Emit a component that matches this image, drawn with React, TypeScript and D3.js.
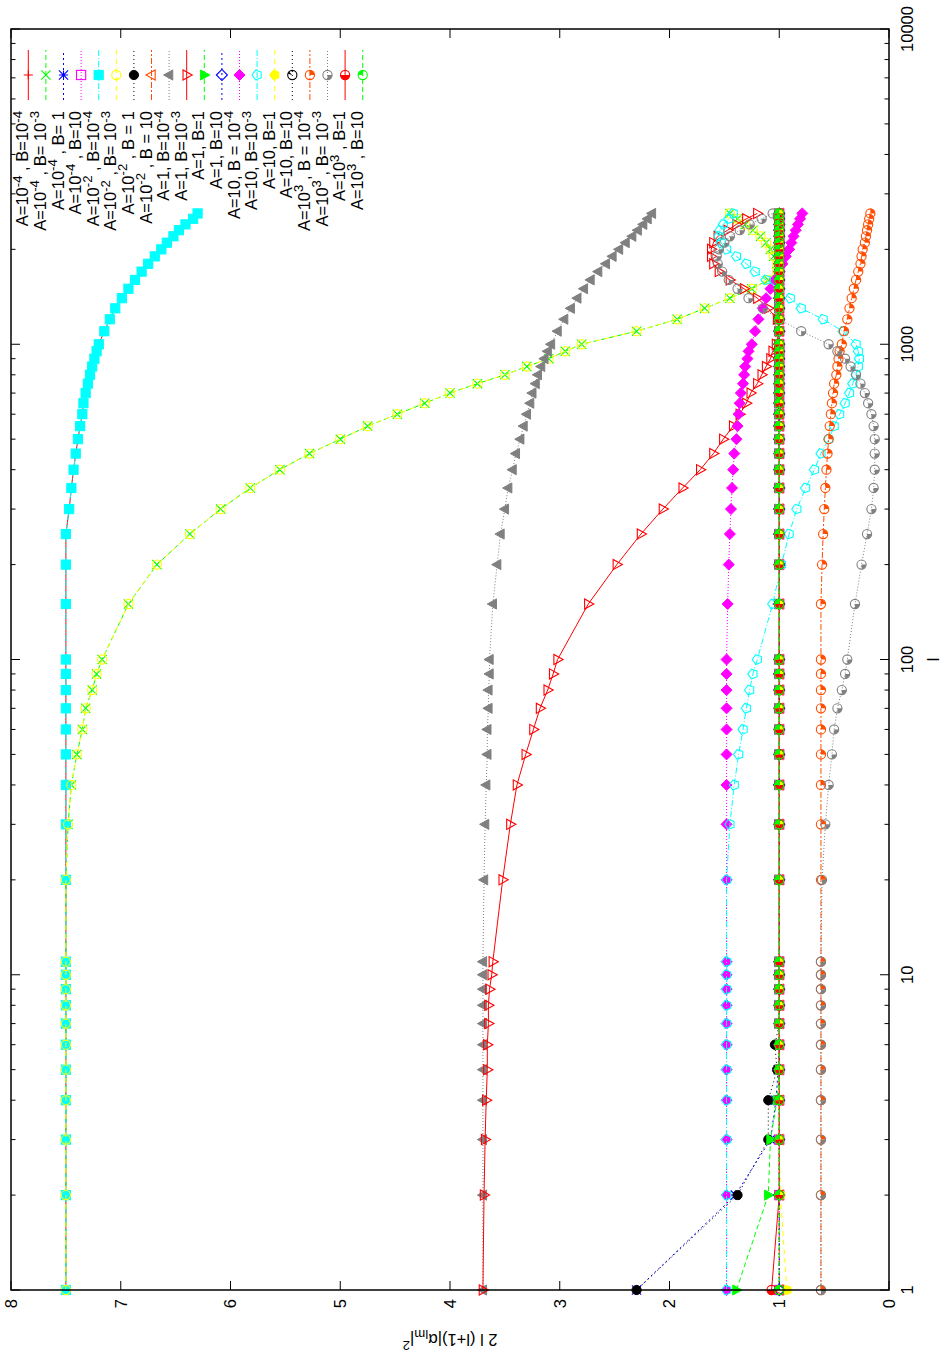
import React from 'react';
import * as d3 from 'd3';

const L = [1,2,3,4,5,6,7,8,9,10,11,20,30,40,50,60,70,80,90,100,150,200,250,300,350,400,450,500,550,600,650,700,750,800,850,900,950,1000,1100,1200,1300,1400,1500,1600,1700,1800,1900,2000,2100,2200,2300,2400,2500,2600];

const s01 = [7.5,7.5,7.5,7.5,7.5,7.5,7.5,7.5,7.5,7.5,7.5, 7.5,7.5,7.5,7.5,7.5,7.5,7.5,7.5,7.5, 7.5,7.5,7.5, 7.47,7.45,7.43,7.41,7.39,7.37,7.35,7.34,7.32,7.30,7.28,7.26,7.24,7.22,7.2, 7.15,7.1,7.05,6.99,6.93,6.87,6.81,6.75,6.69,6.63,6.58,6.52,6.47,6.41,6.34,6.30];
const s02 = [7.5,7.5,7.5,7.5,7.5,7.5,7.5,7.5,7.5,7.5,7.5, 7.5,7.48,7.45,7.4,7.35,7.32,7.26,7.22,7.17, 6.93,6.67,6.37, 6.09,5.82,5.55,5.28,5.0,4.75,4.48,4.23,4.0,3.75,3.5,3.3,3.1,2.95,2.8, 2.3,1.93,1.68,1.45,1.25,1.1,1.02,1.02,1.05,1.08,1.12,1.17,1.24,1.31,1.38,1.45];
const s03 = [2.3,1.4,1.08,1.03,1.01,1,1,1,1,1,1, 1,1,1,1,1,1,1,1,1, 1,1,1, 1,1,1,1,1,1,1,1,1,1,1,1,1,1,1, 1,1,1,1,1,1,1,1,1,1,1,1,1,1,1,1];
const s04 = [1,1,1,1,1,1,1,1,1,1,1, 1,1,1,1,1,1,1,1,1, 1,1,1, 1,1,1,1,1,1,1,1,1,1,1,1,1,1,1, 1,1,1,1,1,1,1,1,1,1,1,1,1,1,1,1];
const s05 = [7.5,7.5,7.5,7.5,7.5,7.5,7.5,7.5,7.5,7.5,7.5, 7.5,7.5,7.5,7.5,7.5,7.5,7.5,7.5,7.5, 7.5,7.5,7.5, 7.47,7.45,7.43,7.41,7.39,7.37,7.35,7.34,7.32,7.30,7.28,7.26,7.24,7.22,7.2, 7.15,7.1,7.05,6.99,6.93,6.87,6.81,6.75,6.69,6.63,6.58,6.52,6.47,6.41,6.34,6.30];
const s06 = [7.5,7.5,7.5,7.5,7.5,7.5,7.5,7.5,7.5,7.5,7.5, 7.5,7.48,7.45,7.4,7.35,7.32,7.26,7.22,7.17, 6.93,6.67,6.37, 6.09,5.82,5.55,5.28,5.0,4.75,4.48,4.23,4.0,3.75,3.5,3.3,3.1,2.95,2.8, 2.3,1.93,1.68,1.45,1.25,1.1,1.02,1.02,1.05,1.08,1.12,1.17,1.24,1.31,1.38,1.45];
const s07 = [2.3,1.38,1.1,1.1,1.02,1.04,1,1,1,1,1, 1,1,1,1,1,1,1,1,1, 1,1,1, 1,1,1,1,1,1,1,1,1,1,1,1,1,1,1, 1,1,1,1,1,1,1,1,1,1,1,1,1,1,1,1];
const s08 = [1,1,1,1,1,1,1,1,1,1,1, 1,1,1,1,1,1,1,1,1, 1,1,1, 1,1,1,1,1,1,1,1,1,1,1,1,1,1,1, 1,1,1,1,1,1,1,1,1,1,1,1,1,1,1,1];
const s09 = [3.7,3.7,3.7,3.7,3.7,3.7,3.7,3.7,3.7,3.7,3.7, 3.69,3.68,3.67,3.66,3.66,3.65,3.65,3.64,3.64, 3.61,3.57,3.54, 3.5,3.47,3.43,3.4,3.36,3.33,3.3,3.27,3.25,3.22,3.2,3.17,3.14,3.11,3.08, 3.02,2.96,2.9,2.84,2.78,2.72,2.65,2.58,2.52,2.46,2.4,2.34,2.29,2.24,2.2,2.16];
const s10 = [3.7,3.69,3.68,3.67,3.66,3.66,3.65,3.65,3.64,3.62,3.61, 3.52,3.45,3.39,3.31,3.24,3.18,3.11,3.06,3.02, 2.74,2.48,2.26, 2.06,1.88,1.72,1.6,1.51,1.42,1.36,1.3,1.26,1.2,1.16,1.12,1.08,1.06,1.03, 1.0,1.02,1.1,1.2,1.32,1.45,1.55,1.6,1.62,1.62,1.6,1.56,1.47,1.39,1.3,1.2];
const s11 = [1.39,1.1,1.08,1.02,1,1,1,1,1,1,1, 1,1,1,1,1,1,1,1,1, 1,1,1, 1,1,1,1,1,1,1,1,1,1,1,1,1,1,1, 1,1,1,1,1,1,1,1,1,1,1,1,1,1,1,1];
const s12 = [1,1,1,1,1,1,1,1,1,1,1, 1,1,1,1,1,1,1,1,1, 1,1,1, 1,1,1,1,1,1,1,1,1,1,1,1,1,1,1, 1,1,1,1,1,1,1,1,1,1,1,1,1,1,1,1];
const s13 = [1.48,1.48,1.48,1.48,1.48,1.48,1.48,1.48,1.48,1.48,1.48, 1.48,1.48,1.48,1.48,1.48,1.48,1.48,1.48,1.48, 1.47,1.46,1.45, 1.44,1.43,1.42,1.41,1.39,1.38,1.37,1.36,1.35,1.33,1.32,1.31,1.29,1.28,1.25, 1.22,1.19,1.15,1.12,1.08,1.04,1.0,0.97,0.94,0.91,0.89,0.87,0.85,0.83,0.81,0.79];
const s14 = [1.48,1.48,1.48,1.48,1.48,1.48,1.48,1.48,1.48,1.48,1.48, 1.48,1.45,1.41,1.37,1.33,1.3,1.27,1.24,1.2, 1.06,0.98,0.91, 0.84,0.76,0.68,0.62,0.55,0.5,0.45,0.4,0.36,0.33,0.3,0.28,0.27,0.28,0.3, 0.42,0.6,0.8,0.9,1.0,1.12,1.22,1.3,1.39,1.48,1.53,1.55,1.54,1.51,1.46,1.42];
const s15 = [0.93,0.99,1,1,1,1,1,1,1,1,1, 1,1,1,1,1,1,1,1,1, 1,1,1, 1,1,1,1,1,1,1,1,1,1,1,1,1,1,1, 1,1,1,1,1,1,1,1,1,1,1,1,1,1,1,1];
const s16 = [1,1,1,1,1,1,1,1,1,1,1, 1,1,1,1,1,1,1,1,1, 1,1,1, 1,1,1,1,1,1,1,1,1,1,1,1,1,1,1, 1,1,1,1,1,1,1,1,1,1,1,1,1,1,1,1];
const s17 = [0.62,0.62,0.62,0.62,0.62,0.62,0.62,0.62,0.62,0.62,0.62, 0.62,0.62,0.62,0.62,0.62,0.62,0.62,0.62,0.62, 0.62,0.61,0.6, 0.59,0.58,0.57,0.56,0.55,0.54,0.53,0.52,0.51,0.5,0.48,0.47,0.46,0.45,0.43, 0.41,0.38,0.36,0.34,0.32,0.3,0.28,0.26,0.25,0.24,0.22,0.21,0.2,0.19,0.18,0.17];
const s18 = [0.62,0.62,0.62,0.62,0.62,0.62,0.62,0.62,0.62,0.62,0.62, 0.61,0.58,0.55,0.52,0.5,0.47,0.43,0.4,0.38, 0.31,0.25,0.2, 0.16,0.14,0.13,0.13,0.13,0.14,0.16,0.19,0.22,0.26,0.3,0.35,0.4,0.47,0.55, 0.8,1.0,1.15,1.28,1.38,1.46,1.52,1.56,1.57,1.55,1.5,1.45,1.36,1.27,1.16,1.06];
const s19 = [1.07,1,1,1,1,1,1,1,1,1,1, 1,1,1,1,1,1,1,1,1, 1,1,1, 1,1,1,1,1,1,1,1,1,1,1,1,1,1,1, 1,1,1,1,1,1,1,1,1,1,1,1,1,1,1,1];
const s20 = [1,1,1,1,1,1,1,1,1,1,1, 1,1,1,1,1,1,1,1,1, 1,1,1, 1,1,1,1,1,1,1,1,1,1,1,1,1,1,1, 1,1,1,1,1,1,1,1,1,1,1,1,1,1,1,1];

const LABELS = [
  'A=10^{-4} , B=10^{-4}', 'A=10^{-4} , B= 10^{-3}', 'A=10^{-4} , B= 1', 'A=10^{-4} , B=10',
  'A=10^{-2} , B=10^{-4}', 'A=10^{-2} , B= 10^{-3}', 'A=10^{-2} , B = 1', 'A=10^{-2} , B = 10',
  'A=1, B=10^{-4}', 'A=1, B=10^{-3}', 'A=1, B=1', 'A=1, B=10',
  'A=10, B = 10^{-4}', 'A=10, B=10^{-3}', 'A=10, B=1', 'A=10, B=10',
  'A=10^{3} , B = 10^{-4}', 'A=10^{3} , B= 10^{-3}', 'A=10^{3} , B=1', 'A=10^{3} , B=10'
];
const DATA = [s01,s02,s03,s04,s05,s06,s07,s08,s09,s10,s11,s12,s13,s14,s15,s16,s17,s18,s19,s20];
const COLORS = ['#ff0000','#00ff00','#0000ff','#ff00ff','#00ffff','#ffff00','#000000','#ff4d00','#808080'];
const DASHES = ['', '5,3', '2,3', '1,2', '6,2,1,2', '5,4', '1,3', '6,2,2,2', '1,2'];
const MARKERS = ['plus','cross','star','sq','sqf','circ','circf','tri','trif','trid','tridf','dia','diaf','pent','pentf','c16','c17','c18','c19','c20'];

const Y_TICKS = [0,1,2,3,4,5,6,7,8];
const X_MAJOR = [1,10,100,1000,10000];

const PW = 1261, PH = 878;
const OX = 11, OY = 1290;

const xs = d3.scaleLog().domain([1, 10000]).range([0, PW]);
const ys = d3.scaleLinear().domain([0, 8]).range([PH, 0]);

function rich(str: string, fs: number) {
  const re = /\^\{([^}]*)\}|_\{([^}]*)\}|([^^_]+)/g;
  const out: any[] = [];
  let cur = 0; let m; let k = 0;
  while ((m = re.exec(str)) !== null) {
    let txt = m[3] || m[1] || m[2];
    let target = 0; let size = fs;
    if (m[1] !== undefined) { target = -fs * 0.4; size = fs * 0.8; }
    if (m[2] !== undefined) { target = fs * 0.25; size = fs * 0.8; }
    out.push(<tspan key={k++} dy={target - cur} fontSize={size}>{txt}</tspan>);
    cur = target;
  }
  return out;
}

function Marker({ type, x, y, color }: any) {
  const s = 4.6;
  const st = { stroke: color, strokeWidth: 1.1, fill: 'none' };
  const fl = { fill: color, stroke: color, strokeWidth: 1 };
  const poly = (pts: number[][]) => pts.map(p => `${x + p[0]},${y + p[1]}`).join(' ');
  switch (type) {
    case 'plus': return <path d={`M${x - s},${y}H${x + s}M${x},${y - s}V${y + s}`} {...st} />;
    case 'cross': return <path d={`M${x - s},${y - s}L${x + s},${y + s}M${x - s},${y + s}L${x + s},${y - s}`} {...st} />;
    case 'star': return <path d={`M${x - s},${y}H${x + s}M${x},${y - s}V${y + s}M${x - s},${y - s}L${x + s},${y + s}M${x - s},${y + s}L${x + s},${y - s}`} {...st} />;
    case 'sq': return <rect x={x - s} y={y - s} width={2 * s} height={2 * s} {...st} />;
    case 'sqf': return <rect x={x - s} y={y - s} width={2 * s} height={2 * s} {...fl} />;
    case 'circ': return <circle cx={x} cy={y} r={s} {...st} />;
    case 'circf': return <circle cx={x} cy={y} r={s} {...fl} />;
    case 'tri': return <polygon points={poly([[0, -s * 1.2], [s * 1.1, s * 0.8], [-s * 1.1, s * 0.8]])} {...st} />;
    case 'trif': return <polygon points={poly([[0, -s * 1.2], [s * 1.1, s * 0.8], [-s * 1.1, s * 0.8]])} {...fl} />;
    case 'trid': return <polygon points={poly([[0, s * 1.2], [s * 1.1, -s * 0.8], [-s * 1.1, -s * 0.8]])} {...st} />;
    case 'tridf': return <polygon points={poly([[0, s * 1.2], [s * 1.1, -s * 0.8], [-s * 1.1, -s * 0.8]])} {...fl} />;
    case 'dia': return <polygon points={poly([[0, -s * 1.2], [s * 1.2, 0], [0, s * 1.2], [-s * 1.2, 0]])} {...st} />;
    case 'diaf': return <polygon points={poly([[0, -s * 1.2], [s * 1.2, 0], [0, s * 1.2], [-s * 1.2, 0]])} {...fl} />;
    case 'pent':
    case 'pentf': {
      const pts = d3.range(5).map(i => { const a = -Math.PI / 2 + i * 2 * Math.PI / 5; return [s * 1.1 * Math.cos(a), s * 1.1 * Math.sin(a)]; });
      return <polygon points={poly(pts)} {...(type === 'pent' ? st : fl)} />;
    }
    default: {
      const frac: any = { c16: 0.08, c17: 0.25, c18: 0.25, c19: 0.5, c20: 0.25 };
      const start: any = { c16: 0.3, c17: Math.PI / 2, c18: Math.PI, c19: Math.PI, c20: 0 };
      const f = frac[type] || 0.25;
      const a0 = start[type] || 0;
      const arc = d3.arc()({ innerRadius: 0, outerRadius: s, startAngle: a0, endAngle: a0 + f * 2 * Math.PI } as any) || '';
      return (
        <g>
          <path d={arc} transform={`translate(${x},${y})`} fill={color} />
          <circle cx={x} cy={y} r={s} {...st} />
        </g>
      );
    }
  }
}

export default function App() {
  const line = d3.line<number>().x((_, i) => xs(L[i])).y(d => ys(d));
  const minors: number[] = [];
  for (let dec = 1; dec < 10000; dec *= 10) for (let k = 2; k <= 9; k++) minors.push(dec * k);
  const font = 'Liberation Sans, Arial, Helvetica, sans-serif';
  const fs = 16.5;
  const legFs = 16.5;
  return (
    <svg width={941} height={1360} style={{ position: 'absolute', left: 0, top: 0, background: '#fff' }} fontFamily={font}>
      <rect x={0} y={0} width={941} height={1360} fill="#fff" />
      <g transform={`translate(${OX},${OY}) rotate(-90)`}>
        {Y_TICKS.map(t => (
          <g key={'y' + t}>
            <line x1={0} x2={9} y1={ys(t)} y2={ys(t)} stroke="#000" strokeWidth={1} />
            <line x1={PW} x2={PW - 9} y1={ys(t)} y2={ys(t)} stroke="#000" strokeWidth={1} />
            <text x={-9} y={ys(t)} dy="0.35em" textAnchor="end" fontSize={fs}>{t}</text>
          </g>
        ))}
        {X_MAJOR.map(t => (
          <g key={'x' + t}>
            <line x1={xs(t)} x2={xs(t)} y1={PH} y2={PH - 9} stroke="#000" strokeWidth={1} />
            <line x1={xs(t)} x2={xs(t)} y1={0} y2={9} stroke="#000" strokeWidth={1} />
            <text x={xs(t)} y={PH + 24} textAnchor="middle" fontSize={fs}>{t}</text>
          </g>
        ))}
        {minors.map(t => (
          <g key={'m' + t}>
            <line x1={xs(t)} x2={xs(t)} y1={PH} y2={PH - 4.5} stroke="#000" strokeWidth={1} />
            <line x1={xs(t)} x2={xs(t)} y1={0} y2={4.5} stroke="#000" strokeWidth={1} />
          </g>
        ))}
        <text x={PW / 2} y={PH + 50} textAnchor="middle" fontSize={fs}>l</text>
        <text transform={`translate(-44,${PH / 2}) rotate(-90)`} textAnchor="middle" fontSize={fs}>{rich('2 l (l+1)|α_{lm}|^{2}', fs)}</text>

        {DATA.map((d, si) => {
          const c = COLORS[si % 9];
          const dash = DASHES[si % 9];
          return (
            <g key={'s' + si}>
              <path d={line(d) || ''} fill="none" stroke={c} strokeWidth={1} strokeDasharray={dash} />
              {d.map((v, i) => <Marker key={i} type={MARKERS[si]} x={xs(L[i])} y={ys(v)} color={c} />)}
            </g>
          );
        })}

        {LABELS.map((lab, si) => {
          const c = COLORS[si % 9];
          const dash = DASHES[si % 9];
          const yy = 17.3 + 17.6 * si;
          return (
            <g key={'l' + si}>
              <line x1={1190} x2={1240} y1={yy} y2={yy} stroke={c} strokeWidth={1} strokeDasharray={dash} />
              <Marker type={MARKERS[si]} x={1215} y={yy} color={c} />
              <text x={1179} y={yy} dy="0.35em" textAnchor="end" fontSize={legFs}>{rich(lab, legFs)}</text>
            </g>
          );
        })}

        <rect x={0} y={0} width={PW} height={PH} fill="none" stroke="#000" strokeWidth={1.5} />
      </g>
    </svg>
  );
}
